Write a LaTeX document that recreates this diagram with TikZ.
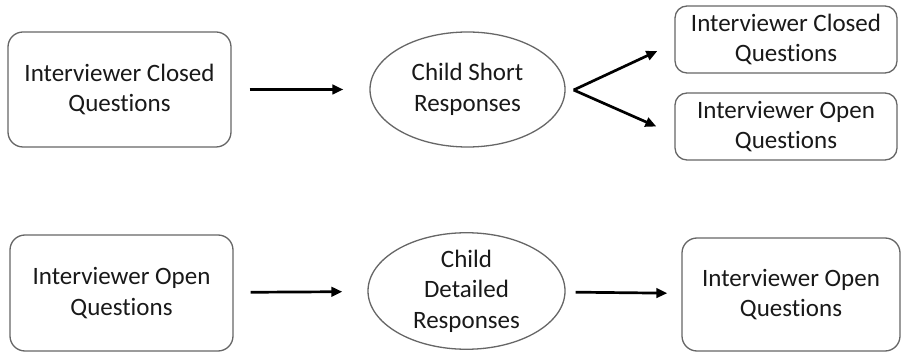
\documentclass[tikz,border=0pt]{standalone}
\usepackage{fontspec}
\setmainfont{Carlito}[Ligatures=NoCommon]
\usetikzlibrary{shapes.geometric,arrows.meta,calc}
\begin{document}
\begin{tikzpicture}[x=1pt,y=-1pt,
  every node/.style={font=\fontsize{25}{30.5}\selectfont, text=black!90, align=center, inner sep=0pt},
  rbox/.style={draw=black!60, line width=1.3pt, rounded corners=15pt, minimum width=#1},
  ell/.style={draw=black!60, line width=1.3pt, ellipse},
  arr/.style={draw=black, line width=2.7pt, -{Triangle[length=11pt,width=9.5pt]}}]
\useasboundingbox (0,0) rectangle (901,352);
\fill[white] (0,0) rectangle (901,352);
% top row
\node[rbox=223pt, minimum height=115pt] (b1) at (119.5,89.5) {Interviewer Closed\\Questions};
\node[ell, minimum width=195pt, minimum height=115pt] (e1) at (467.5,89.5) {Child Short\\Responses};
\node[rbox=222pt, minimum height=67pt, rounded corners=12pt] (b2) at (786,39.5) {Interviewer Closed\\Questions};
\node[rbox=222pt, minimum height=67pt, rounded corners=12pt] (b3) at (786,126.5) {Interviewer Open\\Questions};
% bottom row
\node[rbox=223pt, minimum height=116pt] (b4) at (121.5,293) {Interviewer Open\\Questions};
\node[ell, minimum width=197pt, minimum height=116pt] (e2) at (466.5,291) {Child\\Detailed\\Responses};
\node[rbox=218pt, minimum height=113pt] (b5) at (791,294.5) {Interviewer Open\\Questions};
% connectors
\coordinate (fork) at ($(e1.east)+(8,0.5)$);
\draw[arr, shorten <=18pt, shorten >=26pt] (b1) -- (e1);
\draw[arr] (fork) -- ($(b2.west)+(-17,11.5)$);
\draw[arr] (fork) -- ($(b3.west)+(-18,0)$);
\draw[arr, shorten <=17pt, shorten >=25pt] (b4) -- (e2);
\draw[arr, shorten <=10pt, shorten >=14pt] (e2) -- (b5);
\end{tikzpicture}
\end{document}
